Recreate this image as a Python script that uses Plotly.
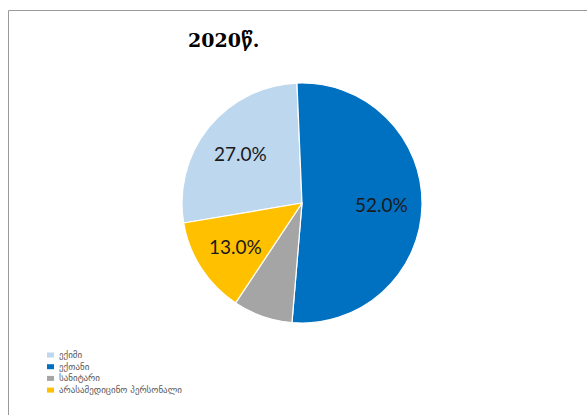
import math
import plotly.graph_objects as go

# Staff structure, 2020 (percent of total)
labels = ["ექიმი", "ექთანი", "სანიტარი", "არასამედიცინო პერსონალი"]
shares = [27.0, 52.0, 8.0, 13.0]
colors = ["#BDD7EE", "#0070C0", "#A5A5A5", "#FFC000"]
show_value = [True, True, False, True]

W, H = 587, 415

# pie placement (pixels)
CX, CY, R = 302, 203, 120
dom_x = [(CX - R) / W, (CX + R) / W]
dom_y = [1 - (CY + R) / H, 1 - (CY - R) / H]

# first slice (ექიმი) ends just left of 12 o'clock
start_angle = -shares[0] / 100 * 360 - 2.4

fig = go.Figure(
    go.Pie(
        labels=labels,
        values=shares,
        sort=False,
        direction="clockwise",
        rotation=start_angle,
        marker=dict(colors=colors, line=dict(color="white", width=1.2)),
        textinfo="none",
        hoverinfo="label+percent",
        domain=dict(x=dom_x, y=dom_y),
        showlegend=False,
    )
)

annotations = []
shapes = []

# value labels, placed along each slice's mid-angle
total = sum(shares)
acc = 0.0
for lab, val, show in zip(labels, shares, show_value):
    mid = start_angle + (acc + val / 2) / total * 360
    acc += val
    if not show:
        continue
    rr = 0.66 * R
    px = CX + rr * math.sin(math.radians(mid))
    py = CY - rr * math.cos(math.radians(mid))
    annotations.append(
        dict(
            text=f"{val:.1f}%",
            x=px / W,
            y=1 - py / H,
            xref="paper",
            yref="paper",
            xanchor="center",
            yanchor="middle",
            showarrow=False,
            font=dict(family="Lato, Open Sans, sans-serif", size=19, color="#1a1a1a"),
        )
    )

# legend: colour key + category name, one row per category
LX, LY0, ROW = 47, 355, 11.7
for i, (lab, col) in enumerate(zip(labels, colors)):
    y = LY0 + i * ROW
    shapes.append(
        dict(
            type="rect",
            xref="paper",
            yref="paper",
            x0=LX / W,
            x1=(LX + 7) / W,
            y0=1 - (y + 2.5) / H,
            y1=1 - (y - 2.5) / H,
            fillcolor=col,
            line=dict(width=0),
        )
    )
    annotations.append(
        dict(
            text=lab,
            x=(LX + 11) / W,
            y=1 - y / H,
            xref="paper",
            yref="paper",
            xanchor="left",
            yanchor="middle",
            showarrow=False,
            borderpad=0,
            font=dict(family="DejaVu Sans, sans-serif", size=9, color="#595959"),
        )
    )

# chart title
annotations.append(
    dict(
        text="<b>2020წ.</b>",
        x=223 / W,
        y=1 - 40 / H,
        xref="paper",
        yref="paper",
        xanchor="center",
        yanchor="middle",
        showarrow=False,
        font=dict(family="DejaVu Serif, serif", size=19, color="black"),
    )
)

# outer frame
shapes.append(
    dict(
        type="rect",
        xref="paper",
        yref="paper",
        x0=8.5 / W,
        x1=1.1,
        y0=-0.1,
        y1=1 - 10.5 / H,
        line=dict(color="#999999", width=1),
    )
)

fig.update_layout(
    width=W,
    height=H,
    margin=dict(l=0, r=0, t=0, b=0),
    paper_bgcolor="white",
    plot_bgcolor="white",
    showlegend=False,
    annotations=annotations,
    shapes=shapes,
)

fig.write_html("out.html")
